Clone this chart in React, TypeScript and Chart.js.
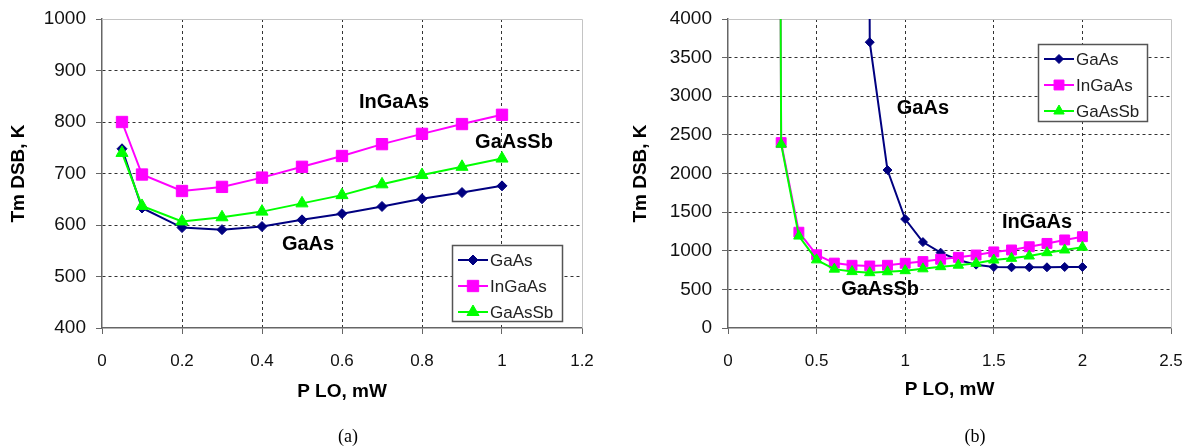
import { useEffect, useRef } from 'react';
import { Chart, registerables } from 'chart.js';
import { drawPoint } from 'chart.js/helpers';

Chart.register(...registerables);

const FONT = "'Liberation Sans', Arial, sans-serif";

// ---------- Chart (a) ----------
const plo_a = [0.05, 0.1, 0.2, 0.3, 0.4, 0.5, 0.6, 0.7, 0.8, 0.9, 1.0];
const gaas_a = [748, 633, 595, 591, 597, 610, 622, 636, 651, 663, 676];
const ingaas_a = [800, 698, 666, 674, 692, 713, 734, 757, 777, 796, 814];
const gaassb_a = [740, 637, 607, 615, 626, 642, 658, 679, 697, 713, 729];

// ---------- Chart (b) ----------
// first point of each series is off-scale (far above 4000 K)
const plo_b_gaas = [0.7, 0.8, 0.9, 1.0, 1.1, 1.2, 1.3, 1.4, 1.5, 1.6, 1.7, 1.8, 1.9, 2.0];
const gaas_b = [60000, 3700, 2045, 1410, 1112, 975, 880, 820, 790, 786, 786, 786, 790, 790];
const plo_b = [0.2, 0.3, 0.4, 0.5, 0.6, 0.7, 0.8, 0.9, 1.0, 1.1, 1.2, 1.3, 1.4, 1.5, 1.6, 1.7, 1.8, 1.9, 2.0];
const ingaas_b = [60000, 2400, 1240, 948, 840, 812, 803, 812, 838, 860, 890, 915, 945, 985, 1010, 1052, 1095, 1140, 1182];
const gaassb_b = [60000, 2380, 1190, 882, 762, 730, 716, 728, 742, 766, 794, 813, 837, 880, 902, 932, 975, 1010, 1045];

const seriesNames = ['GaAs', 'InGaAs', 'GaAsSb'];
const seriesColors = ['#000080', '#ff00ff', '#00ff00'];
const seriesMarkers = ['rectRot', 'rect', 'triangle'];

const labels_a = [
  { text: 'InGaAs', x: 0.73, y: 837 },
  { text: 'GaAsSb', x: 1.03, y: 761 },
  { text: 'GaAs', x: 0.515, y: 563 },
];
const labels_b = [
  { text: 'GaAs', x: 1.1, y: 2848 },
  { text: 'InGaAs', x: 1.744, y: 1372 },
  { text: 'GaAsSb', x: 0.858, y: 505 },
];

const zip = (xs: number[], ys: number[]) => xs.map((x, i) => ({ x, y: ys[i] }));

const framePlugin = {
  id: 'frame',
  beforeDatasetsDraw(chart: any) {
    const { ctx, chartArea: a } = chart;
    ctx.save();
    ctx.strokeStyle = '#c4c4c4';
    ctx.lineWidth = 1;
    ctx.beginPath();
    ctx.moveTo(a.left, a.top + 0.5);
    ctx.lineTo(a.right + 0.5, a.top + 0.5);
    ctx.lineTo(a.right + 0.5, a.bottom);
    ctx.stroke();
    ctx.restore();
  },
};

const annotPlugin = {
  id: 'annot',
  afterDatasetsDraw(chart: any, _args: any, opts: any) {
    const { ctx } = chart;
    const xs = chart.scales.x;
    const ys = chart.scales.y;
    ctx.save();
    ctx.font = `bold 20px ${FONT}`;
    ctx.fillStyle = '#000';
    ctx.textAlign = 'center';
    ctx.textBaseline = 'middle';
    (opts.items || []).forEach((it: any) => {
      ctx.fillText(it.text, xs.getPixelForValue(it.x), ys.getPixelForValue(it.y));
    });
    ctx.restore();
  },
};

const insetLegendPlugin = {
  id: 'insetLegend',
  afterDraw(chart: any, _args: any, opts: any) {
    const { ctx, chartArea: a } = chart;
    const w = opts.width;
    const h = opts.height;
    const x0 = Math.round(a.right - opts.right - w);
    const y0 = Math.round(opts.top != null ? a.top + opts.top : a.bottom - opts.bottom - h);
    ctx.save();
    ctx.fillStyle = '#fff';
    ctx.fillRect(x0, y0, w, h);
    ctx.strokeStyle = '#555';
    ctx.lineWidth = 1.5;
    ctx.strokeRect(x0 + 0.5, y0 + 0.5, w, h);
    const datasets = [...chart.data.datasets].sort((p: any, q: any) => p.legendIndex - q.legendIndex);
    datasets.forEach((ds: any, i: number) => {
      const cy = y0 + opts.firstRow + i * opts.rowGap;
      ctx.strokeStyle = ds.borderColor;
      ctx.lineWidth = 2;
      ctx.beginPath();
      ctx.moveTo(x0 + 6, cy);
      ctx.lineTo(x0 + 36, cy);
      ctx.stroke();
      ctx.fillStyle = ds.backgroundColor;
      ctx.strokeStyle = ds.borderColor;
      ctx.lineWidth = 1;
      drawPoint(ctx, { pointStyle: ds.pointStyle, radius: ds.pointRadius, rotation: 0, borderWidth: 1 } as any, x0 + 21, cy);
      ctx.fillStyle = '#222';
      ctx.font = `17px ${FONT}`;
      ctx.textAlign = 'left';
      ctx.textBaseline = 'middle';
      ctx.fillText(ds.label, x0 + 38, cy + 1);
    });
    ctx.restore();
  },
};

function makeDatasets(data: { x: number; y: number }[][], radii: number[]) {
  return data.map((d, i) => ({
    label: seriesNames[i],
    data: d,
    borderColor: seriesColors[i],
    backgroundColor: seriesColors[i],
    borderWidth: 2,
    pointStyle: seriesMarkers[i],
    pointRadius: radii[i],
    pointBorderWidth: 1,
    pointHoverRadius: radii[i],
    order: 2 - i,
    legendIndex: i,
    tension: 0,
  }));
}

function axisOptions(
  min: number,
  max: number,
  step: number,
  title: string,
  horizontal: boolean,
  size: number,
  titlePad: number
) {
  return {
    type: 'linear',
    min,
    max,
    ticks: {
      stepSize: step,
      color: '#111',
      font: { family: FONT, size: horizontal ? 17 : 19 },
      padding: horizontal ? 17 : 10,
      maxRotation: 0,
      autoSkip: false,
      callback: (v: any) => String(+Number(v).toFixed(3)),
    },
    grid: {
      color: (c: any) =>
        c.tick && (Math.abs(c.tick.value - min) < 1e-9 || Math.abs(c.tick.value - max) < 1e-9)
          ? 'rgba(0,0,0,0)'
          : '#333',
      lineWidth: 1,
      tickColor: '#666',
      tickLength: 6,
      tickWidth: 1,
      tickBorderDash: [],
      drawTicks: true,
    },
    border: { display: true, color: '#666', width: 1.5, dash: [3, 3] },
    title: {
      display: true,
      text: title,
      color: '#000',
      font: { family: FONT, size: 19, weight: 'bold', lineHeight: 1.2 },
      padding: horizontal ? { top: 0, bottom: titlePad } : { top: titlePad, bottom: 0 },
    },
    afterFit: (s: any) => {
      if (horizontal) s.height = size;
      else s.width = size;
      s.paddingLeft = 0;
      s.paddingRight = 0;
      s.paddingTop = 0;
      s.paddingBottom = 0;
    },
  };
}

function LineChart(props: { config: any; width: number; height: number; left: number }) {
  const ref = useRef<HTMLCanvasElement | null>(null);
  useEffect(() => {
    if (!ref.current) return;
    const chart = new Chart(ref.current, props.config);
    return () => chart.destroy();
  }, []);
  return (
    <canvas
      ref={ref}
      width={props.width}
      height={props.height}
      style={{ position: 'absolute', left: props.left, top: 0, width: props.width, height: props.height }}
    />
  );
}

const configA = {
  type: 'line',
  data: {
    datasets: makeDatasets([zip(plo_a, gaas_a), zip(plo_a, ingaas_a), zip(plo_a, gaassb_a)], [5, 8, 7]),
  },
  options: {
    responsive: false,
    animation: false,
    events: [],
    layout: { padding: { top: 19, right: 13, left: 0, bottom: 0 } },
    scales: {
      x: axisOptions(0, 1.2, 0.2, 'P LO, mW', true, 120, 45),
      y: axisOptions(400, 1000, 100, 'Tm DSB, K', false, 102, 7),
    },
    plugins: {
      legend: { display: false },
      tooltip: { enabled: false },
      annot: { items: labels_a },
      insetLegend: { width: 110, height: 76, right: 20, bottom: 7, firstRow: 15, rowGap: 26 },
    },
  },
  plugins: [framePlugin, annotPlugin, insetLegendPlugin],
};

const configB = {
  type: 'line',
  data: {
    datasets: makeDatasets(
      [zip(plo_b_gaas, gaas_b), zip(plo_b, ingaas_b), zip(plo_b, gaassb_b)],
      [4.5, 7, 6]
    ),
  },
  options: {
    responsive: false,
    animation: false,
    events: [],
    layout: { padding: { top: 19, right: 19, left: 0, bottom: 0 } },
    scales: {
      x: axisOptions(0, 2.5, 0.5, 'P LO, mW', true, 120, 47),
      y: axisOptions(0, 4000, 500, 'Tm DSB, K', false, 133, 34),
    },
    plugins: {
      legend: { display: false },
      tooltip: { enabled: false },
      annot: { items: labels_b },
      insetLegend: { width: 109, height: 77, right: 24, top: 25, firstRow: 15, rowGap: 26 },
    },
  },
  plugins: [framePlugin, annotPlugin, insetLegendPlugin],
};

export default function App() {
  const caption: any = {
    position: 'absolute',
    top: 424,
    width: 60,
    textAlign: 'center',
    fontFamily: "'Liberation Serif', 'Times New Roman', serif",
    fontSize: 18,
    lineHeight: '24px',
    color: '#000',
  };
  return (
    <div style={{ position: 'absolute', left: 0, top: 0, width: 1190, height: 448, background: '#fff', overflow: 'hidden' }}>
      <LineChart config={configA} width={595} height={448} left={0} />
      <LineChart config={configB} width={595} height={448} left={595} />
      <div style={{ ...caption, left: 348 - 30 }}>(a)</div>
      <div style={{ ...caption, left: 975 - 30 }}>(b)</div>
    </div>
  );
}
